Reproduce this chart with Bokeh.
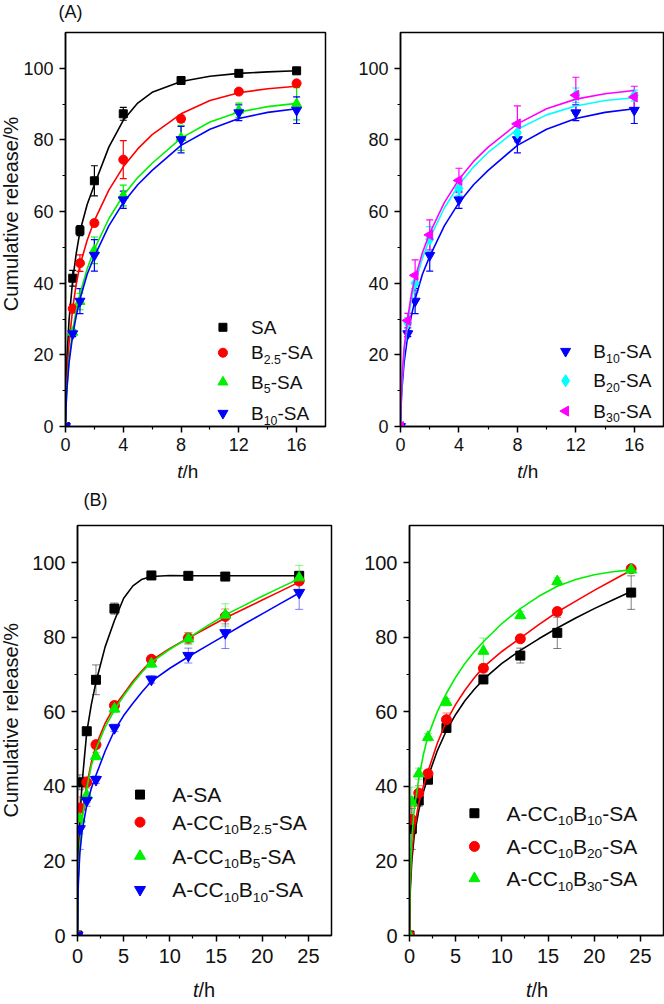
from math import pi
from bokeh.plotting import figure
from bokeh.layouts import column, row
from bokeh.models import Label, FixedTicker, Whisker, TeeHead, ColumnDataSource
from bokeh.embed import file_html
from bokeh.resources import INLINE

FONT = "Liberation Sans"

# ---------------- Panel (A): measured release, t in h ----------------
tA = [0, 0.5, 1, 2, 4, 8, 12, 16]
SA = [0, 41.4, 54.7, 68.6, 87.3, 96.6, 98.6, 99.3]
SA_err = [0, 2.2, 1.4, 4.2, 1.8, 0.8, 0.8, 0.8]
B25 = [0, 32.9, 45.6, 56.8, 74.5, 85.9, 93.5, 95.8]
B25_err = [0, 1.2, 2.3, 0.8, 5.3, 1.0, 0.7, 0.8]
B5 = [0, 26.3, 34.9, 49.2, 64.5, 80.6, 88.3, 90.1]
B5_err = [0, 0.8, 2.3, 3.7, 2.9, 3.5, 2.0, 4.5]
B10 = [0, 25.9, 35.0, 47.8, 63.3, 80.1, 87.6, 88.3]
B10_err = [0, 0.8, 3.5, 4.4, 2.4, 3.7, 2.2, 3.7]
B20 = [0, 28.9, 40.0, 52.3, 66.5, 82.0, 92.5, 92.4]
B20_err = [0, 1.5, 2.5, 3.5, 2.0, 2.5, 2.0, 1.5]
B30 = [0, 29.6, 42.2, 53.5, 68.7, 84.5, 92.5, 92.0]
B30_err = [0, 2.0, 4.3, 4.2, 3.4, 5.0, 5.0, 3.0]

# fitted curves of panel (A)
tA_fit = [0, 0.05, 0.1, 0.25, 0.5, 0.75, 1, 1.5, 2, 3, 4, 5, 6, 8, 10, 12, 14, 16]
SA_fit = [0, 12, 19, 30, 41, 48.5, 54.5, 62, 67.5, 78, 85.5, 90.3, 93.3, 96.3, 97.8, 98.6, 99.0, 99.3]
B25_fit = [0, 9, 14, 23.5, 33, 40, 45, 52, 57.5, 66, 72.5, 77.5, 81.5, 87.3, 91, 93.2, 94.3, 95]
B5_fit = [0, 7, 11, 19, 27, 32.5, 37, 44, 49.5, 58, 64.5, 69.5, 73.5, 80.5, 85, 87.8, 89.3, 90.2]
B10_fit = [0, 6.5, 10.5, 18, 25.5, 31, 35.5, 42.5, 47.5, 56, 62.5, 67.5, 71.5, 78.5, 83, 86, 87.7, 88.7]
B20_fit = [0, 8.5, 12.5, 21, 29, 35.5, 40, 47, 52.5, 61, 67.5, 72.5, 76.5, 83, 87, 89.5, 91, 91.8]
B30_fit = [0, 9, 13.5, 22, 30.5, 37, 41.5, 48.5, 54, 62.5, 69, 74, 78, 84.5, 88.7, 91.4, 92.9, 93.8]

# ---------------- Panel (B) ----------------
tB = [0, 0.25, 1, 2, 4, 8, 12, 16, 24]
ASA = [0, 41.1, 54.8, 68.6, 87.7, 96.6, 96.5, 96.3, 96.5]
ASA_err = [0, 2.0, 1.0, 4.0, 1.5, 0.5, 0.5, 0.5, 0.5]
CB25 = [0, 34.2, 41.1, 51.2, 61.7, 74.1, 79.8, 85.6, 95.1]
CB25_err = [0, 3.0, 1.5, 1.0, 1.0, 1.0, 1.5, 2.0, 1.0]
CB5 = [0, 31.3, 37.6, 48.1, 60.8, 72.9, 79.6, 86.0, 96.0]
CB5_err = [0, 4.0, 2.0, 1.0, 1.0, 1.0, 1.5, 3.0, 3.3]
CB10 = [0, 28.6, 36.2, 41.8, 55.7, 68.7, 75.1, 81.2, 92.0]
CB10_err = [0, 5.5, 1.5, 1.0, 1.0, 1.0, 2.0, 4.2, 4.5]
CB20 = [0, 31.1, 38.2, 43.4, 57.9, 71.7, 79.6, 86.9, 98.4]
CB20_err = [0, 3.5, 2.0, 1.0, 1.8, 1.0, 1.0, 1.0, 0.5]
CB30 = [0, 35.8, 43.4, 53.2, 62.6, 76.3, 85.9, 95.0, 98.1]
CB30_err = [0, 4.0, 1.5, 1.0, 1.0, 3.5, 1.0, 1.0, 0.5]

tB_fit = [0, 0.05, 0.1, 0.25, 0.5, 1, 1.5, 2, 3, 4, 5, 6, 7, 8, 10, 12, 14, 16, 18, 20, 22, 24]
ASA_fit = [0, 15, 21, 31, 41, 54.5, 62, 68, 77.5, 84.5, 90.5, 93.8, 95.6, 96.3, 96.6, 96.5, 96.5, 96.5, 96.5, 96.5, 96.5, 96.5]
CB25_fit = [0, 12, 17, 25, 32, 40.5, 46.5, 51, 57, 61.5, 64.8, 68.2, 71.1, 73.8, 77, 79.8, 82.5, 85.2, 87.6, 90, 92.4, 94.8]
CB5_fit = [0, 11, 16, 24, 31, 39.5, 45.5, 50, 56, 60.5, 64.3, 67.7, 70.7, 73.3, 76.8, 79.8, 83, 86, 88.5, 91, 93.4, 95.7]
CB10_fit = [0, 10, 14.5, 22, 28, 35, 39.5, 43, 49.5, 55, 59, 62.3, 65.4, 68.2, 71.7, 74.8, 77.7, 80.6, 83.5, 86.3, 89.1, 91.9]
CB10r_fit = [0, 9, 13, 20, 26.5, 33.5, 38.5, 42.5, 49.5, 55, 59.3, 63, 66, 68.7, 73, 76.5, 79.6, 82.5, 85.2, 87.7, 90, 92.3]
CB20_fit = [0, 10, 14.5, 22, 28.5, 35.5, 40, 44, 51.5, 57.5, 62, 65.8, 69.1, 72, 76.2, 79.8, 83.4, 86.8, 89.7, 92.6, 95.3, 98]
CB30_fit = [0, 12, 17, 26, 33.5, 42, 48.5, 53.5, 60, 65, 69.3, 73, 76.1, 78.8, 83.7, 87.7, 91, 93.7, 95.5, 96.8, 97.6, 98.1]

# legend names: (text, is_subscript) parts
N_SA = [("SA", False)]
N_B25 = [("B", False), ("2.5", True), ("-SA", False)]
N_B5 = [("B", False), ("5", True), ("-SA", False)]
N_B10 = [("B", False), ("10", True), ("-SA", False)]
N_B20 = [("B", False), ("20", True), ("-SA", False)]
N_B30 = [("B", False), ("30", True), ("-SA", False)]
N_ASA = [("A-SA", False)]
N_CB25 = [("A-CC", False), ("10", True), ("B", False), ("2.5", True), ("-SA", False)]
N_CB5 = [("A-CC", False), ("10", True), ("B", False), ("5", True), ("-SA", False)]
N_CB10 = [("A-CC", False), ("10", True), ("B", False), ("10", True), ("-SA", False)]
N_CB20 = [("A-CC", False), ("10", True), ("B", False), ("20", True), ("-SA", False)]
N_CB30 = [("A-CC", False), ("10", True), ("B", False), ("30", True), ("-SA", False)]

BLACK, RED, GREEN, BLUE, CYAN, MAGENTA = "#000000", "#FF0000", "#00F000", "#0000FF", "#00FFFF", "#FF00FF"
TXT = "#111111"

CW = {'A': .667, 'B': .667, 'C': .722, 'S': .667, '-': .333, '.': .278, ' ': .278}


def text_width(s, fs):
    return sum(CW.get(c, .556) for c in s) * fs


def make_fig(width, height, mb, xmax, xticks, xminor, tick_fs, xstand):
    p = figure(width=width, height=height, x_range=(0, xmax), y_range=(0, 110),
               output_backend="svg", toolbar_location=None,
               min_border_left=mb[0], min_border_right=mb[1],
               min_border_top=mb[2], min_border_bottom=mb[3])
    p.grid.visible = False
    p.outline_line_color = "black"
    p.outline_line_width = 1.5
    p.outline_line_alpha = 1
    p.background_fill_color = "white"
    p.border_fill_color = "white"
    p.xaxis.ticker = FixedTicker(ticks=xticks, minor_ticks=xminor)
    p.yaxis.ticker = FixedTicker(ticks=[0, 20, 40, 60, 80, 100], minor_ticks=[10, 30, 50, 70, 90])
    for ax in (p.xaxis[0], p.yaxis[0]):
        ax.axis_line_color = "black"
        ax.axis_line_width = 1.5
        ax.major_tick_line_width = 1.5
        ax.minor_tick_line_width = 1.2
        ax.major_tick_line_color = "black"
        ax.minor_tick_line_color = "black"
        ax.major_tick_out = 6
        ax.major_tick_in = 0
        ax.minor_tick_out = 3
        ax.minor_tick_in = 0
        ax.major_label_text_font = FONT
        ax.major_label_text_font_size = tick_fs
        ax.major_label_text_color = TXT
    p.xaxis.major_label_standoff = xstand
    p.yaxis.major_label_standoff = 6
    return p


def strip(width, height):
    f = figure(width=width, height=height, x_range=(0, width), y_range=(0, height),
               output_backend="svg", toolbar_location=None, min_border=0,
               x_axis_type=None, y_axis_type=None)
    f.outline_line_color = None
    f.grid.visible = False
    f.background_fill_color = "white"
    f.border_fill_color = "white"
    return f


def add_series(p, t, y, err, tfit, yfit, color, marker, size, angle=0.0, err_alpha=1.0, err_w=1.2, head=7):
    p.line(tfit, yfit, line_color=color, line_width=1.6)
    keep = [i for i in range(len(t)) if err[i] > 0]
    src = ColumnDataSource(dict(x=[t[i] for i in keep],
                                lo=[y[i] - err[i] for i in keep],
                                hi=[y[i] + err[i] for i in keep]))
    p.add_layout(Whisker(source=src, base="x", lower="lo", upper="hi",
                         line_color=color, line_width=err_w, line_alpha=err_alpha,
                         upper_head=TeeHead(size=head, line_color=color, line_width=err_w, line_alpha=err_alpha),
                         lower_head=TeeHead(size=head, line_color=color, line_width=err_w, line_alpha=err_alpha)))
    p.scatter(t, y, marker=marker, size=size, angle=angle, fill_color=color, line_color=color)


def legend_entry(p, mx, tx, y, ppu_y, color, marker, size, parts, fs, angle=0.0):
    p.scatter([mx], [y], marker=marker, size=size, angle=angle, fill_color=color, line_color=color)
    off = 0.0
    for txt, sub in parts:
        f = fs * 0.65 if sub else fs
        yy = y - (fs * 0.36 / ppu_y if sub else 0)
        p.add_layout(Label(x=tx, y=yy, x_offset=off, text=txt, text_font=FONT,
                           text_font_size=f"{f:.1f}px", text_baseline="middle",
                           text_align="left", text_color=TXT))
        off += text_width(txt, f)


def x_label(f, xc, y, fs):
    f.add_layout(Label(x=xc - 5, y=y, text="t", text_font=FONT, text_font_style="italic",
                       text_font_size=fs, text_align="right", text_baseline="middle", text_color=TXT))
    f.add_layout(Label(x=xc - 5, y=y, text="/h", text_font=FONT,
                       text_font_size=fs, text_align="left", text_baseline="middle", text_color=TXT))


def y_label(f, xc, yc):
    f.add_layout(Label(x=xc, y=yc, text="Cumulative release/%", angle=pi / 2,
                       text_font=FONT, text_font_size="20px", text_align="center",
                       text_baseline="middle", text_color=TXT))


# ---------- top-left ----------
ppuA = 394 / 110
pA1 = make_fig(325, 433, (42, 20, 6, 33), 18, [0, 4, 8, 12, 16], [2, 6, 10, 14], "18px", 5)
add_series(pA1, tA, SA, SA_err, tA_fit, SA_fit, BLACK, "square", 8)
add_series(pA1, tA, B25, B25_err, tA_fit, B25_fit, RED, "circle", 9)
add_series(pA1, tA, B5, B5_err, tA_fit, B5_fit, GREEN, "triangle", 10)
add_series(pA1, tA, B10, B10_err, tA_fit, B10_fit, BLUE, "inverted_triangle", 10)
legend_entry(pA1, 10.9, 12.85, 27.7, ppuA, BLACK, "square", 8, N_SA, 19)
legend_entry(pA1, 10.9, 12.85, 20.6, ppuA, RED, "circle", 9, N_B25, 19)
legend_entry(pA1, 10.9, 12.85, 12.4, ppuA, GREEN, "triangle", 10, N_B5, 19)
legend_entry(pA1, 10.9, 12.85, 3.7, ppuA, BLUE, "inverted_triangle", 10, N_B10, 19)

# ---------- top-right ----------
pA2 = make_fig(319, 433, (55, 1, 6, 33), 18, [0, 4, 8, 12, 16], [2, 6, 10, 14], "18px", 5)
add_series(pA2, tA, B10, B10_err, tA_fit, B10_fit, BLUE, "inverted_triangle", 10)
add_series(pA2, tA, B20, B20_err, tA_fit, B20_fit, CYAN, "diamond", 12)
add_series(pA2, tA, B30, B30_err, tA_fit, B30_fit, MAGENTA, "triangle", 10, angle=pi / 2)
legend_entry(pA2, 11.3, 13.2, 21.0, ppuA, BLUE, "inverted_triangle", 10, N_B10, 19)
legend_entry(pA2, 11.3, 13.2, 12.8, ppuA, CYAN, "diamond", 12, N_B20, 19)
legend_entry(pA2, 11.3, 13.2, 4.3, ppuA, MAGENTA, "triangle", 10, N_B30, 19, angle=pi / 2)

# ---------- bottom-left ----------
ppuB = 410 / 110
pB1 = make_fig(325, 465, (57, 14, 15, 40), 27.5, [0, 5, 10, 15, 20, 25], [2.5, 7.5, 12.5, 17.5, 22.5], "20px", 7)
add_series(pB1, tB, ASA, ASA_err, tB_fit, ASA_fit, BLACK, "square", 9, err_alpha=0.5, err_w=1.0, head=8)
add_series(pB1, tB, CB25, CB25_err, tB_fit, CB25_fit, RED, "circle", 10, err_alpha=0.5, err_w=1.0, head=8)
add_series(pB1, tB, CB5, CB5_err, tB_fit, CB5_fit, GREEN, "triangle", 11, err_alpha=0.5, err_w=1.0, head=8)
add_series(pB1, tB, CB10, CB10_err, tB_fit, CB10_fit, BLUE, "inverted_triangle", 11, err_alpha=0.5, err_w=1.0, head=8)
legend_entry(pB1, 6.77, 10.27, 37.8, ppuB, BLACK, "square", 9, N_ASA, 21)
legend_entry(pB1, 6.77, 10.27, 30.4, ppuB, RED, "circle", 10, N_CB25, 21)
legend_entry(pB1, 6.77, 10.27, 21.3, ppuB, GREEN, "triangle", 11, N_CB5, 21)
legend_entry(pB1, 6.77, 10.27, 12.3, ppuB, BLUE, "inverted_triangle", 11, N_CB10, 21)

# ---------- bottom-right ----------
pB2 = make_fig(319, 465, (64, 1, 15, 40), 27.5, [0, 5, 10, 15, 20, 25], [2.5, 7.5, 12.5, 17.5, 22.5], "20px", 7)
add_series(pB2, tB, CB10, CB10_err, tB_fit, CB10r_fit, BLACK, "square", 9, err_alpha=0.5, err_w=1.0, head=8)
add_series(pB2, tB, CB20, CB20_err, tB_fit, CB20_fit, RED, "circle", 10, err_alpha=0.5, err_w=1.0, head=8)
add_series(pB2, tB, CB30, CB30_err, tB_fit, CB30_fit, GREEN, "triangle", 11, err_alpha=0.5, err_w=1.0, head=8)
legend_entry(pB2, 7.03, 10.5, 32.8, ppuB, BLACK, "square", 9, N_CB10, 21)
legend_entry(pB2, 7.03, 10.5, 23.9, ppuB, RED, "circle", 10, N_CB20, 21)
legend_entry(pB2, 7.03, 10.5, 15.3, ppuB, GREEN, "triangle", 11, N_CB30, 21)

# ---------- text strips around the panels ----------
topA = strip(664, 26)
topA.add_layout(Label(x=70, y=15, text="(A)", text_font=FONT, text_font_size="18px",
                      text_align="center", text_baseline="middle", text_color=TXT))
yA = strip(20, 433)
y_label(yA, 10, 233.5)
botA = strip(664, 24)
x_label(botA, 187, 12, "19px")
x_label(botA, 527, 12, "19px")
topB = strip(664, 27)
topB.add_layout(Label(x=95, y=11, text="(B)", text_font=FONT, text_font_size="18px",
                      text_align="center", text_baseline="middle", text_color=TXT))
yB = strip(20, 465)
y_label(yB, 10, 244.2)
botB = strip(664, 27)
x_label(botB, 203, 13, "20px")
x_label(botB, 536, 13, "20px")

layout = column(topA, row(yA, pA1, pA2), botA, topB, row(yB, pB1, pB2), botB)
open("out.html", "w").write(file_html(layout, INLINE))
